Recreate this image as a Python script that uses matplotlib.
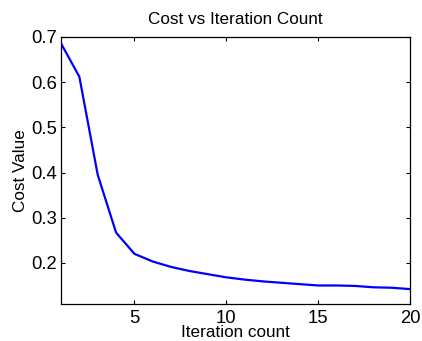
import matplotlib
matplotlib.use("Agg")
import matplotlib.pyplot as plt

# cost per iteration
iterations = list(range(1, 21))
cost = [0.686, 0.612, 0.395, 0.267, 0.220, 0.203, 0.191, 0.182, 0.175, 0.168,
        0.163, 0.159, 0.156, 0.153, 0.150, 0.150, 0.149, 0.146, 0.145, 0.142]

x_ticks = [5, 10, 15, 20]
y_ticks = [0.2, 0.3, 0.4, 0.5, 0.6, 0.7]

plt.rcParams['font.family'] = ['Liberation Sans', 'DejaVu Sans']

fig = plt.figure(figsize=(4.22, 3.41), dpi=100)
ax = fig.add_axes([0.1445, 0.1085, 0.827, 0.783])

ax.plot(iterations, cost, color=(0, 0, 1), linewidth=1.6)

ax.set_xlim(1, 20)
ax.set_ylim(0.109, 0.7)
ax.set_xticks(x_ticks)
ax.set_yticks(y_ticks)
ax.set_yticklabels([f"{v:.1f}" for v in y_ticks])

ax.tick_params(direction='in', length=3, width=0.8, labelsize=13.3,
               top=True, right=True, pad=4)
ax.tick_params(axis='y', pad=3)
for s in ax.spines.values():
    s.set_linewidth(0.9)

ax.set_title("Cost vs Iteration Count", fontsize=12.3, pad=9)
ax.set_xlabel("Iteration count", fontsize=12.3, labelpad=-1)
ax.set_ylabel("Cost Value", fontsize=12.3, labelpad=2)

fig.savefig("out.png", dpi=100)
